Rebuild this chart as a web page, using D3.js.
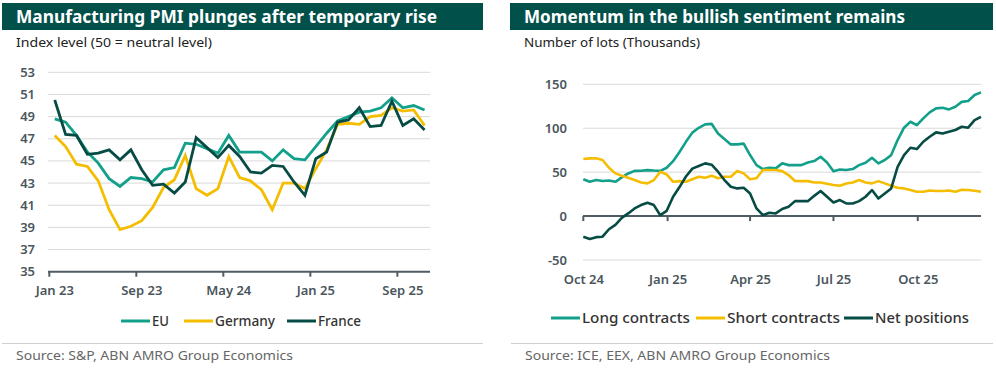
<!DOCTYPE html>
<html>
<head>
<meta charset="utf-8">
<script src="https://cdn.jsdelivr.net/npm/d3@7"></script>
<style>
  body { margin: 0; background: #fff; }
  svg { display: block; font-family: "Noto Sans", "Open Sans", sans-serif; }
</style>
</head>
<body>
<svg id="chart" width="996" height="368"></svg>
<script>
// ---- left panel: manufacturing PMI, monthly Jan 23 .. Nov 25
var months = ['Jan 23','Feb 23','Mar 23','Apr 23','May 23','Jun 23','Jul 23','Aug 23','Sep 23','Oct 23','Nov 23','Dec 23',
  'Jan 24','Feb 24','Mar 24','Apr 24','May 24','Jun 24','Jul 24','Aug 24','Sep 24','Oct 24','Nov 24','Dec 24',
  'Jan 25','Feb 25','Mar 25','Apr 25','May 25','Jun 25','Jul 25','Aug 25','Sep 25','Oct 25','Nov 25']
var pmiEU = [48.8,48.5,47.3,45.8,44.8,43.4,42.7,43.5,43.4,43.1,44.2,44.4,
  46.6,46.5,46.1,45.7,47.3,45.8,45.8,45.8,45.0,46.0,45.2,45.1,
  46.3,47.5,48.6,49.0,49.4,49.5,49.8,50.7,49.8,50.0,49.6]
var pmiGermany = [47.3,46.3,44.7,44.5,43.2,40.6,38.8,39.1,39.6,40.8,42.6,43.3,
  45.5,42.5,41.9,42.5,45.4,43.5,43.2,42.4,40.6,43.0,43.0,42.5,
  44.3,46.0,48.3,48.4,48.3,49.0,49.1,49.8,49.5,49.6,48.2]
var pmiFrance = [50.5,47.4,47.3,45.6,45.7,46.0,45.1,46.0,44.2,42.8,42.9,42.1,
  43.1,47.1,46.2,45.3,46.4,45.4,44.0,43.9,44.6,44.5,43.1,41.9,
  45.2,45.8,48.5,48.7,49.8,48.1,48.2,50.4,48.2,48.8,47.8]
var pmiTicks = [35,37,39,41,43,45,47,49,51,53]
var pmiLabels = ['Jan 23','Sep 23','May 24','Jan 25','Sep 25']

// ---- right panel: weekly positions (thousands of lots), from 1 Oct 2024
var weekStart = new Date(2024, 9, 1)
var longContracts = [42,39,41,40,40.5,39,44,48.5,51.5,51.6,52.3,51.8,51.5,55,62.5,73,84.5,95,100.5,104.4,
  105,94,87.7,81.6,81.6,82.5,69.5,58,53.5,55,54.3,60,58,58,58,61,62.6,67.5,61,51,
  53,52.4,53.5,58,60.7,66.4,60,63.8,69.4,86.5,100.6,107.4,103.6,111.2,118,122.6,123.3,121.4,124.5,130,
  131,137.8,140.8]
var shortContracts = [65,65.7,65.7,63.8,55,48.6,46,43.6,41,38.3,37.2,41,50.5,47.4,39,39.8,39,42,44.8,43.6,
  46,43,44.8,44.8,51.2,48.6,42,43,52.4,52.4,52.4,51.2,46.7,40,39.8,39.8,38.3,38.3,36.8,35.3,
  34.5,37,38.3,41,38.3,37.2,39.8,37.2,34.5,32.3,31.5,29.6,27.7,27.7,29.2,28.5,28.5,29.2,27.7,30,
  29.6,28.8,27.7]
var netPositions = [-23.5,-26,-24,-23.5,-15,-10,-2,3,8.7,12.5,15.2,12.5,1,6,22,33,45,54,57,60,
  58.5,50.5,41,33.4,31.5,32.3,25.8,8.7,1.1,3.8,3,8,10.6,17,17,17,23,28.5,22,15.5,
  18.2,14.4,14.4,17,22,29.6,20,25.8,31.5,56,69.4,77.8,76.3,84.6,90.3,95.3,94,96,98,101.7,
  100.6,109.3,113]
var lotTicks = [-50,0,50,100,150]
var lotLabelDates = [new Date(2024,9,1), new Date(2025,0,1), new Date(2025,3,1), new Date(2025,6,1), new Date(2025,9,1)]

var colEU = '#13a08b', colDE = '#f5bd00', colFR = '#074c44'
var titleBg = '#02504a', gridCol = '#d9d9d9', axisCol = '#4f5d63', textCol = '#4a565c'

var svg = d3.select('#chart')

function header(x0, x1, title, titleW, sub, subW) {
  svg.append('rect').attr('x', x0).attr('y', 3).attr('width', x1 - x0).attr('height', 27).attr('fill', titleBg)
  svg.append('text').attr('x', x0 + 14).attr('y', 23).attr('fill', '#fff')
    .attr('font-size', 17).attr('font-weight', 700).text(title)
    .attr('textLength', titleW).attr('lengthAdjust', 'spacingAndGlyphs')
  svg.append('text').attr('x', x0 + 14).attr('y', 47).attr('fill', '#222')
    .attr('font-size', 13).text(sub)
    .attr('textLength', subW).attr('lengthAdjust', 'spacingAndGlyphs')
}

function footer(x0, x1, src, srcW) {
  svg.append('line').attr('x1', x0).attr('x2', x1).attr('y1', 343.5).attr('y2', 343.5)
    .attr('stroke', '#cfcfcf').attr('stroke-width', 1)
  svg.append('text').attr('x', x0 + 14).attr('y', 360).attr('fill', '#666')
    .attr('font-size', 13).text(src)
    .attr('textLength', srcW).attr('lengthAdjust', 'spacingAndGlyphs')
}

function legend(items, y) {
  items.forEach(function (it) {
    svg.append('line').attr('x1', it.x).attr('x2', it.x + 29).attr('y1', y).attr('y2', y)
      .attr('stroke', it.color).attr('stroke-width', 3)
    svg.append('text').attr('x', it.x + 31).attr('y', y + 5).attr('fill', '#333')
      .attr('font-size', 13.5).attr('font-weight', 500).text(it.name)
      .attr('textLength', it.w).attr('lengthAdjust', 'spacingAndGlyphs')
  })
}

// ================= left chart =================
header(2, 483, 'Manufacturing PMI plunges after temporary rise', 421, 'Index level (50 = neutral level)', 196)

var xL = d3.scaleBand().domain(months).range([49.3, 430]).paddingInner(0).paddingOuter(0)
var yL = d3.scaleLinear().domain([35, 53]).range([271.7, 72.3])
var gL = svg.append('g')

gL.selectAll('line.grid').data(pmiTicks.filter(function (d) { return d > 35 })).enter().append('line')
  .attr('class', 'grid').attr('x1', 48).attr('x2', 430)
  .attr('y1', function (d) { return yL(d) }).attr('y2', function (d) { return yL(d) })
  .attr('stroke', gridCol).attr('stroke-width', 1)

gL.selectAll('text.yl').data(pmiTicks).enter().append('text')
  .attr('class', 'yl').attr('x', 35).attr('y', function (d) { return yL(d) + 4.5 })
  .attr('text-anchor', 'end').attr('fill', textCol).attr('font-size', 13).attr('font-weight', 600)
  .text(function (d) { return d })

var lineL = function (vals) {
  return d3.line()
    .x(function (d, i) { return xL(months[i]) + xL.bandwidth() / 2 })
    .y(function (d) { return yL(d) })(vals)
}
;[[pmiEU, colEU], [pmiGermany, colDE], [pmiFrance, colFR]].forEach(function (s) {
  gL.append('path').attr('d', lineL(s[0])).attr('fill', 'none')
    .attr('stroke', s[1]).attr('stroke-width', 2.8).attr('stroke-linejoin', 'miter')
})

// axis line with tick marks on category edges, labels centred in category
gL.append('line').attr('x1', 48).attr('x2', 430).attr('y1', yL(35)).attr('y2', yL(35))
  .attr('stroke', axisCol).attr('stroke-width', 2)
gL.selectAll('line.tk').data(pmiLabels).enter().append('line').attr('class', 'tk')
  .attr('x1', function (d) { return xL(d) }).attr('x2', function (d) { return xL(d) })
  .attr('y1', yL(35)).attr('y2', yL(35) + 5).attr('stroke', axisCol).attr('stroke-width', 2)
var axL = gL.append('g').attr('transform', 'translate(0,' + (yL(35) + 4) + ')')
  .call(d3.axisBottom(xL).tickValues(pmiLabels).tickSize(0).tickPadding(10))
axL.select('.domain').remove()
axL.selectAll('text').attr('fill', textCol).attr('font-size', 13).attr('font-weight', 600)
  .attr('font-family', '"Noto Sans", sans-serif')

legend([{ name: 'EU', color: colEU, x: 121, w: 17 }, { name: 'Germany', color: colDE, x: 184, w: 60 },
  { name: 'France', color: colFR, x: 287, w: 43 }], 321)
footer(2, 483, 'Source: S&P, ABN AMRO Group Economics', 277)

// ================= right chart =================
header(510, 993, 'Momentum in the bullish sentiment remains', 381, 'Number of lots (Thousands)', 176)

var weeks = longContracts.map(function (d, i) { return d3.timeDay.offset(weekStart, 7 * i) })
var xR = d3.scaleTime().domain([weeks[0], weeks[weeks.length - 1]]).range([583.3, 981])
var yR = d3.scaleLinear().domain([-50, 150]).range([260, 84.3])
var gR = svg.append('g')

gR.selectAll('line.grid').data(lotTicks.filter(function (d) { return d !== 0 })).enter().append('line')
  .attr('class', 'grid').attr('x1', 583).attr('x2', 981)
  .attr('y1', function (d) { return yR(d) }).attr('y2', function (d) { return yR(d) })
  .attr('stroke', gridCol).attr('stroke-width', 1)

gR.selectAll('text.yl').data(lotTicks).enter().append('text')
  .attr('class', 'yl').attr('x', 567).attr('y', function (d) { return yR(d) + 4.5 })
  .attr('text-anchor', 'end').attr('fill', textCol).attr('font-size', 13).attr('font-weight', 600)
  .text(function (d) { return d })

gR.append('line').attr('x1', 583).attr('x2', 981).attr('y1', yR(0)).attr('y2', yR(0))
  .attr('stroke', axisCol).attr('stroke-width', 2)
gR.selectAll('line.tk').data(lotLabelDates).enter().append('line').attr('class', 'tk')
  .attr('x1', function (d) { return xR(d) }).attr('x2', function (d) { return xR(d) })
  .attr('y1', yR(0)).attr('y2', yR(0) + 5).attr('stroke', axisCol).attr('stroke-width', 2)

var lineR = function (vals) {
  return d3.line()
    .x(function (d, i) { return xR(weeks[i]) })
    .y(function (d) { return yR(d) })(vals)
}
;[[longContracts, colEU], [shortContracts, colDE], [netPositions, colFR]].forEach(function (s) {
  gR.append('path').attr('d', lineR(s[0])).attr('fill', 'none')
    .attr('stroke', s[1]).attr('stroke-width', 2.6).attr('stroke-linejoin', 'round')
})

var axR = gR.append('g').attr('transform', 'translate(0,' + yR(-50) + ')')
  .call(d3.axisBottom(xR).tickValues(lotLabelDates).tickSize(0).tickPadding(15)
    .tickFormat(d3.timeFormat('%b %y')))
axR.select('.domain').remove()
axR.selectAll('text').attr('fill', textCol).attr('font-size', 13).attr('font-weight', 600)
  .attr('font-family', '"Noto Sans", sans-serif')

legend([{ name: 'Long contracts', color: colEU, x: 551, w: 108 }, { name: 'Short contracts', color: colDE, x: 696, w: 113 },
  { name: 'Net positions', color: colFR, x: 844, w: 94 }], 318)
footer(511, 993, 'Source: ICE, EEX, ABN AMRO Group Economics', 305)
</script>
</body>
</html>
